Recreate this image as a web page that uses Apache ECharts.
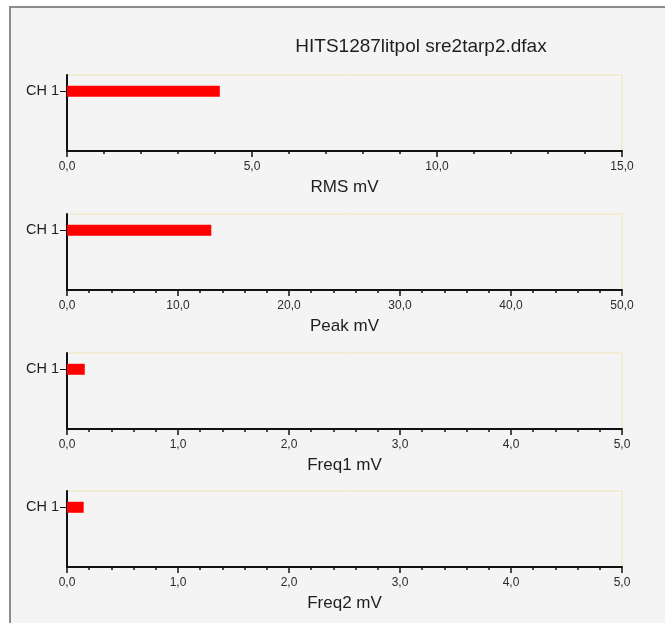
<!DOCTYPE html>
<html>
<head>
<meta charset="utf-8">
<script src="https://cdn.jsdelivr.net/npm/echarts@6/dist/echarts.min.js"></script>
<style>
  html, body { margin: 0; padding: 0; background: #ffffff; width: 665px; height: 623px; overflow: hidden; }
  #frame { position: absolute; left: 9px; top: 6px; width: 700px; height: 700px; background: #f4f4f4; border-left: 2px solid #8c8c8c; border-top: 2px solid #8c8c8c; }
  #chart { position: absolute; left: 0; top: 0; width: 665px; height: 623px; }
</style>
</head>
<body>
<div id="frame"></div>
<div id="chart"></div>
<script>
// ---- data ----
const titleText = 'HITS1287litpol sre2tarp2.dfax';
const channels = ['CH 1'];
const rmsValues = [4.13];
const peakValues = [13.0];
const freq1Values = [0.16];
const freq2Values = [0.15];
const axisNames = ['RMS mV', 'Peak mV', 'Freq1 mV', 'Freq2 mV'];
const axisMax = [15, 50, 5, 5];
const axisInterval = [5, 10, 1, 1];

const seriesValues = [rmsValues, peakValues, freq1Values, freq2Values];
const panelTops = [75, 214, 353, 491];
const panelHeight = 76;

// pad category axis so the channel sits near top of the panel
const yCats = [''].concat(channels, ['', '', '', '', '']);

const fmt = v => v.toFixed(1).replace('.', ',');
const FONT = 'Liberation Sans, Arial, sans-serif';

const grids = [], xAxes = [], yAxes = [], series = [];
for (let i = 0; i < 4; i++) {
  grids.push({
    left: 67, right: 43, top: panelTops[i], height: panelHeight,
    show: true, backgroundColor: 'transparent',
    borderColor: '#eee5b5', borderWidth: 1
  });
  xAxes.push({
    type: 'value', gridIndex: i, min: 0, max: axisMax[i], interval: axisInterval[i],
    name: axisNames[i], nameLocation: 'middle', nameGap: 28,
    nameTextStyle: { fontFamily: FONT, fontSize: 17, color: '#1e1e1e' },
    axisLine: { show: true, onZero: false, lineStyle: { color: '#111', width: 2 } },
    axisTick: { show: true, length: 6, lineStyle: { color: '#111', width: 1.5 } },
    minorTick: { show: true, splitNumber: 5, length: 3, lineStyle: { color: '#111', width: 1.5 } },
    splitLine: { show: false },
    axisLabel: { formatter: fmt, fontFamily: FONT, fontSize: 12, color: '#2a2a2a', margin: 10 }
  });
  yAxes.push({
    type: 'category', gridIndex: i, data: yCats, inverse: true,
    axisLine: { show: true, lineStyle: { color: '#111', width: 2 } },
    axisTick: { show: true, alignWithLabel: true, length: 7, interval: (idx, val) => val !== '', lineStyle: { color: '#111', width: 1 } },
    axisLabel: { interval: 0, fontFamily: FONT, fontSize: 14.5, color: '#1e1e1e', margin: 8 },
    splitLine: { show: false }
  });
  series.push({
    type: 'bar', xAxisIndex: i, yAxisIndex: i, barWidth: 11,
    itemStyle: { color: '#ff0000' },
    data: channels.map((c, k) => [seriesValues[i][k], c]),
    animation: false
  });
}

const chart = echarts.init(document.getElementById('chart'), null, { renderer: 'canvas' });
chart.setOption({
  animation: false,
  backgroundColor: 'transparent',
  title: {
    text: titleText, left: 416, top: 32, textAlign: 'center',
    textStyle: { fontFamily: FONT, fontSize: 19, fontWeight: 'normal', color: '#1e1e1e' }
  },
  grid: grids, xAxis: xAxes, yAxis: yAxes, series: series
});
</script>
</body>
</html>
